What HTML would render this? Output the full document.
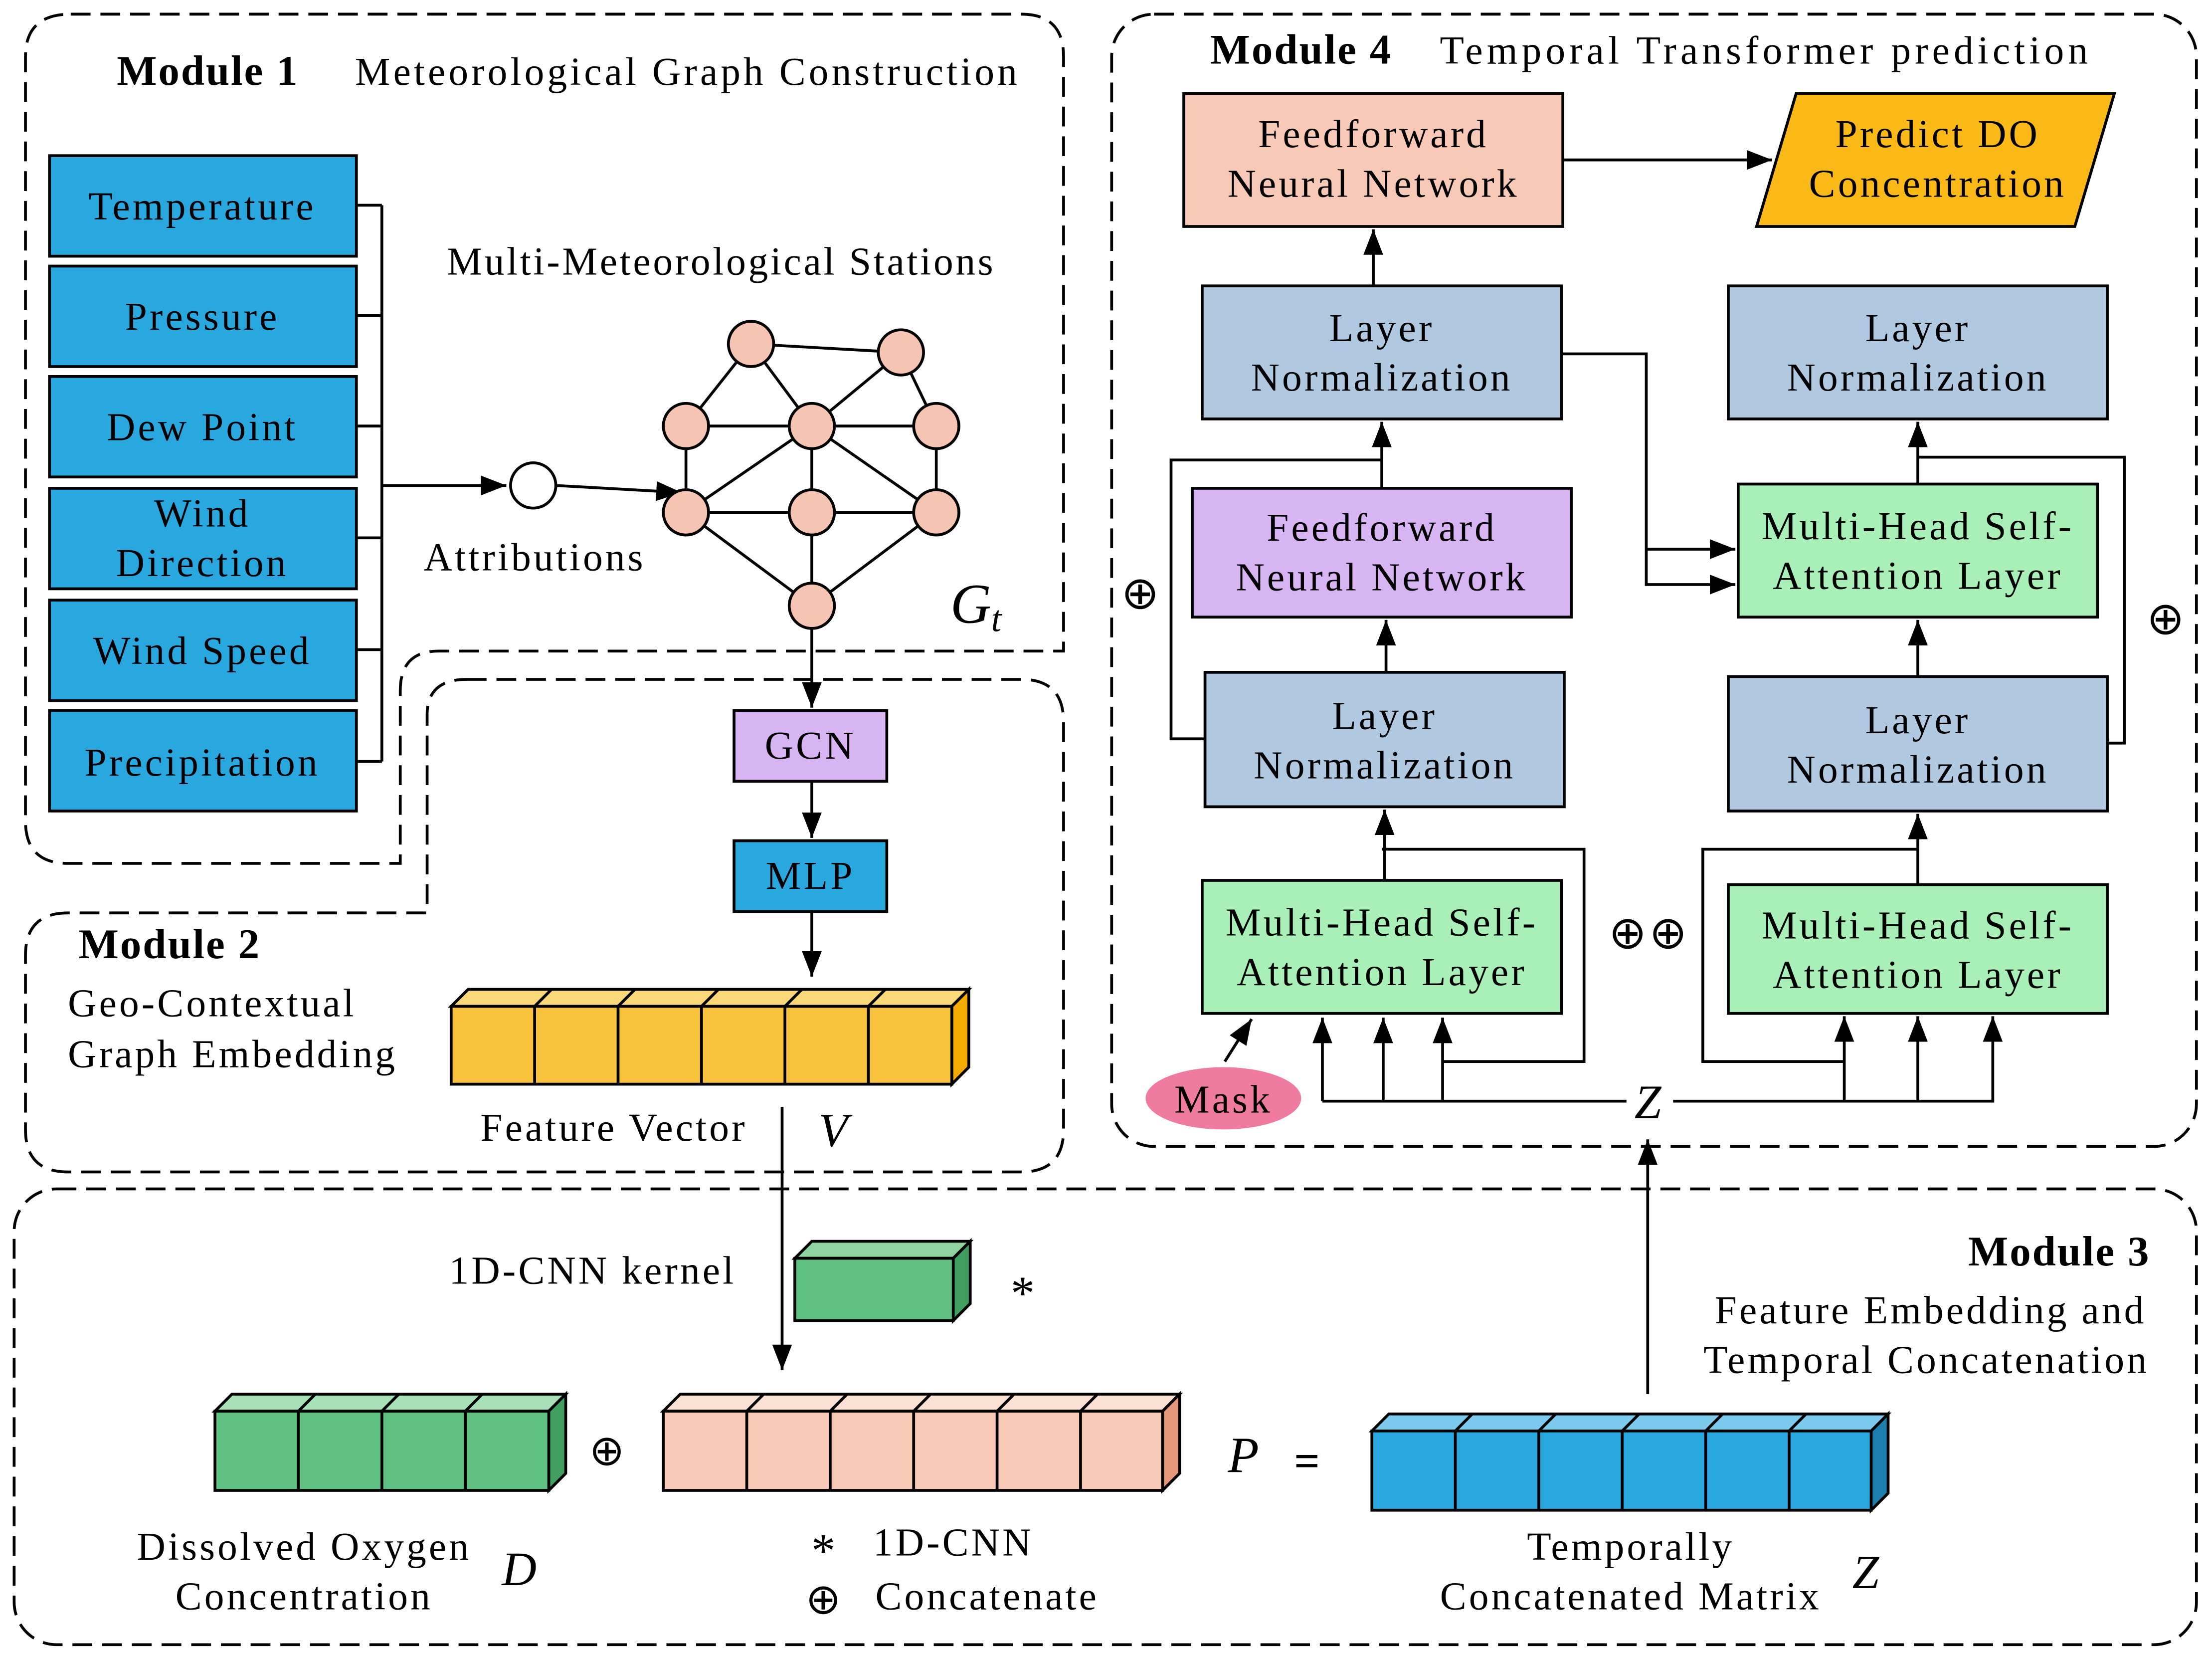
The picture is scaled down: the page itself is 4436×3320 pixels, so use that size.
<!DOCTYPE html>
<html><head><meta charset="utf-8"><style>html,body{margin:0;padding:0;background:#fff}svg{display:block}</style></head><body>
<svg width="4436" height="3320" viewBox="0 0 1564 1170" preserveAspectRatio="none" xmlns="http://www.w3.org/2000/svg" font-family="'Liberation Serif',serif">
<defs>
<marker id="b" markerWidth="20" markerHeight="14" refX="18" refY="7" orient="auto" markerUnits="userSpaceOnUse"><path d="M0,0 L18,7 L0,14 z" fill="#000"/></marker></defs>
<g fill="none" stroke="#000" stroke-width="2" stroke-dasharray="14,7">
<path d="M50,10 H722 Q752,10 752,40 V460 H310 Q283,460 283,488 V610 H48 Q18,610 18,580 V40 Q18,10 50,10 Z"/>
<path d="M330,480 H722 Q752,480 752,510 V798 Q752,828 722,828 H48 Q18,828 18,798 V675 Q18,645 48,645 H302 V505 Q302,480 330,480 Z"/>
<rect x="786" y="10" width="767" height="800" rx="30"/>
<rect x="10" y="840" width="1543" height="322" rx="30"/>
</g>
<g font-size="28" text-anchor="middle" letter-spacing="1.8">
<text x="147" y="60" font-weight="bold" font-size="30" letter-spacing="1">Module 1</text>
<text x="486" y="60" textLength="470">Meteorological Graph  Construction</text>
<text x="510" y="194" textLength="388">Multi-Meteorological Stations</text>
<text x="378" y="403">Attributions</text>
<text x="690" y="440" font-style="italic" font-size="40" letter-spacing="0">G<tspan font-size="26" dy="6">t</tspan></text>
<text x="120" y="677" font-weight="bold" font-size="30" letter-spacing="1">Module 2</text>
<text x="48" y="718" text-anchor="start">Geo-Contextual</text>
<text x="48" y="754" text-anchor="start">Graph Embedding</text>
<text x="434" y="806">Feature Vector</text>
<text x="590" y="810" font-style="italic" font-size="34">V</text>
<text x="920" y="45" font-weight="bold" font-size="30" letter-spacing="1">Module 4</text>
<text x="1248" y="45" textLength="460">Temporal   Transformer  prediction</text>
<text x="1456" y="894" font-weight="bold" font-size="30" letter-spacing="1">Module 3</text>
<text x="1365" y="935">Feature Embedding and</text>
<text x="1362" y="970">Temporal Concatenation</text>
<text x="419" y="907">1D-CNN kernel</text>
<text x="724" y="925" font-size="34">*</text>
<text x="430" y="1035" font-size="30">⊕</text>
<text x="880" y="1040" font-style="italic" font-size="36">P</text>
<text x="925" y="1043" font-weight="bold" font-size="32">=</text>
<text x="215" y="1102">Dissolved Oxygen</text>
<text x="215" y="1137">Concentration</text>
<text x="368" y="1120" font-style="italic" font-size="34">D</text>
<text x="583" y="1107" font-size="34">*</text>
<text x="674" y="1099">1D-CNN</text>
<text x="583" y="1140" font-size="30">⊕</text>
<text x="698" y="1137">Concatenate</text>
<text x="1153" y="1102">Temporally</text>
<text x="1153" y="1137">Concatenated Matrix</text>
<text x="1320" y="1122" font-style="italic" font-size="34">Z</text>
<text x="807" y="430" font-size="32">⊕</text>
<text x="1532" y="448" font-size="32">⊕</text>
<text x="1166" y="670" font-size="32">⊕⊕</text>
<text x="1166" y="790" font-style="italic" font-size="34">Z</text>
</g>
<g stroke="#000" stroke-width="2">
<g fill="#29a8e0">
<rect x="35" y="110" width="217" height="71"/><rect x="35" y="188" width="217" height="71"/><rect x="35" y="266" width="217" height="71"/><rect x="35" y="345" width="217" height="71"/><rect x="35" y="424" width="217" height="71"/><rect x="35" y="502" width="217" height="71"/>
<rect x="519" y="594" width="108" height="50"/>
</g>
<rect x="519" y="502" width="108" height="50" fill="#d7b4f2"/>
<path fill="none" d="M252,145 H270 M252,223 H270 M252,301 H270 M252,380 H270 M252,459 H270 M252,538 H270 M270,145 V538"/>
<path fill="none" d="M270,343 H358" marker-end="url(#b)"/>
<circle cx="377" cy="343" r="16" fill="#fff"/>
<path fill="none" d="M393,343 L482,348" marker-end="url(#b)"/>
<path fill="none" d="M531,243 L637,249 M531,243 L485,301 M531,243 L574,301 M637,249 L662,301 M637,249 L574,301 M485,301 H662 M485,301 V362 M662,301 V362 M485,362 H662 M574,301 V428 M574,301 L485,362 M574,301 L662,362 M485,362 L574,428 M662,362 L574,428"/>
<g fill="#f5c4b3"><circle cx="531" cy="243" r="16"/><circle cx="637" cy="249" r="16"/><circle cx="485" cy="301" r="16"/><circle cx="574" cy="301" r="16"/><circle cx="662" cy="301" r="16"/><circle cx="485" cy="362" r="16"/><circle cx="574" cy="362" r="16"/><circle cx="662" cy="362" r="16"/><circle cx="574" cy="428" r="16"/></g>
<path fill="none" d="M574,444 V500" marker-end="url(#b)"/>
<path fill="none" d="M574,552 V592" marker-end="url(#b)"/>
<path fill="none" d="M574,644 V690" marker-end="url(#b)"/>
<path d="M319,711 L331,699 H685 L673,711 Z" fill="#fbd87a"/><path d="M673,711 L685,699 V754 L673,766 Z" fill="#f5aa00"/>
<rect x="319" y="711" width="354" height="55" fill="#f9c23c"/>
<path fill="none" d="M378,711 V766 M437,711 V766 M496,711 V766 M555,711 V766 M614,711 V766 M378,711 L390,699 M437,711 L449,699 M496,711 L508,699 M555,711 L567,699 M614,711 L626,699"/>
<path fill="none" d="M553,782 V968" marker-end="url(#b)"/>
<path d="M562,889 L574,877 H686 L674,889 Z" fill="#8ed3a0"/><path d="M674,889 L686,877 V921 L674,933 Z" fill="#3f9e60"/>
<rect x="562" y="889" width="112" height="44" fill="#5ec182"/>
<path d="M152,997 L164,985 H400 L388,997 Z" fill="#a8e0b8"/><path d="M388,997 L400,985 V1041 L388,1053 Z" fill="#3f9e60"/>
<rect x="152" y="997" width="236" height="56" fill="#5ec182"/>
<path fill="none" d="M211,997 V1053 M270,997 V1053 M329,997 V1053 M211,997 L223,985 M270,997 L282,985 M329,997 L341,985"/>
<path d="M469,997 L481,985 H834 L822,997 Z" fill="#fbe0d4"/><path d="M822,997 L834,985 V1041 L822,1053 Z" fill="#e8967a"/>
<rect x="469" y="997" width="353" height="56" fill="#f7c9b6"/>
<path fill="none" d="M528,997 V1053 M587,997 V1053 M646,997 V1053 M705,997 V1053 M764,997 V1053 M528,997 L540,985 M587,997 L599,985 M646,997 L658,985 M705,997 L717,985 M764,997 L776,985"/>
<path d="M970,1011 L982,999 H1335 L1323,1011 Z" fill="#7ccbee"/><path d="M1323,1011 L1335,999 V1055 L1323,1067 Z" fill="#1c7fb0"/>
<rect x="970" y="1011" width="353" height="56" fill="#29a8e0"/>
<path fill="none" d="M1029,1011 V1067 M1088,1011 V1067 M1147,1011 V1067 M1206,1011 V1067 M1265,1011 V1067 M1029,1011 L1041,999 M1088,1011 L1100,999 M1147,1011 L1159,999 M1206,1011 L1218,999 M1265,1011 L1277,999"/>
<path fill="none" d="M1165,985 V805" marker-end="url(#b)"/>
<rect x="837" y="66" width="268" height="94" fill="#f7c9b6"/>
<path d="M1270,66 H1495 L1467,160 H1242 Z" fill="#fbb917"/>
<path fill="none" d="M1105,113 H1253" marker-end="url(#b)"/>
<g fill="#b0c8e0"><rect x="850" y="202" width="254" height="94"/><rect x="1222" y="202" width="268" height="94"/><rect x="852" y="475" width="254" height="95"/><rect x="1222" y="478" width="268" height="95"/></g>
<rect x="843" y="345" width="268" height="91" fill="#d7b4f2"/>
<g fill="#a8f0b8"><rect x="1229" y="342" width="254" height="94"/><rect x="850" y="622" width="254" height="94"/><rect x="1222" y="625" width="268" height="91"/></g>
<ellipse cx="865" cy="776" rx="55" ry="22" fill="#f07ba0" stroke="none"/>
<g fill="none">
<path d="M971,202 V162" marker-end="url(#b)"/>
<path d="M977,345 V298" marker-end="url(#b)"/>
<path d="M980,475 V438" marker-end="url(#b)"/>
<path d="M979,622 V572" marker-end="url(#b)"/>
<path d="M1356,342 V298" marker-end="url(#b)"/>
<path d="M1356,478 V438" marker-end="url(#b)"/>
<path d="M1356,625 V575" marker-end="url(#b)"/>
<path d="M852,522 H828 V325 H977"/>
<path d="M1490,525 H1502 V323 H1356"/>
<path d="M1104,250 H1164 V413 H1227" marker-end="url(#b)"/>
<path d="M1164,388 H1227" marker-end="url(#b)"/>
<path d="M977,600 H1120 V750 H1020"/>
<path d="M1356,600 H1204 V750 H1304"/>
<path d="M866,750 L885,720" marker-end="url(#b)"/>
<path d="M935,778 H1150 M1183,778 H1410"/>
<path d="M935,778 V719" marker-end="url(#b)"/>
<path d="M978,778 V719" marker-end="url(#b)"/>
<path d="M1020,778 V719" marker-end="url(#b)"/>
<path d="M1304,778 V718" marker-end="url(#b)"/>
<path d="M1356,778 V718" marker-end="url(#b)"/>
<path d="M1409,778 V718" marker-end="url(#b)"/>
</g>
</g>
<g font-size="28" text-anchor="middle" fill="#000" letter-spacing="1.8">
<text x="143" y="155">Temperature</text><text x="143" y="233">Pressure</text><text x="143" y="311">Dew Point</text>
<text x="143" y="372">Wind</text><text x="143" y="407">Direction</text><text x="143" y="469">Wind Speed</text><text x="143" y="548">Precipitation</text>
<text x="573" y="536">GCN</text><text x="573" y="628">MLP</text>
<text x="971" y="104">Feedforward</text><text x="971" y="139">Neural Network</text>
<text x="1370" y="104">Predict DO</text><text x="1370" y="139">Concentration</text>
<text x="977" y="241">Layer</text><text x="977" y="276">Normalization</text>
<text x="1356" y="241">Layer</text><text x="1356" y="276">Normalization</text>
<text x="977" y="382">Feedforward</text><text x="977" y="417">Neural Network</text>
<text x="1356" y="381">Multi-Head Self-</text><text x="1356" y="416">Attention Layer</text>
<text x="979" y="515">Layer</text><text x="979" y="550">Normalization</text>
<text x="1356" y="518">Layer</text><text x="1356" y="553">Normalization</text>
<text x="977" y="661">Multi-Head Self-</text><text x="977" y="696">Attention Layer</text>
<text x="1356" y="663">Multi-Head Self-</text><text x="1356" y="698">Attention Layer</text>
<text x="865" y="786">Mask</text>
</g>
</svg>
</body></html>
